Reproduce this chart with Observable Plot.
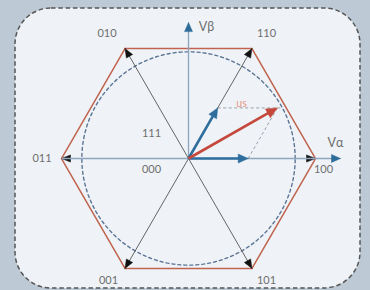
<!DOCTYPE html>
<html>
<head>
<meta charset="utf-8">
<script src="https://cdn.jsdelivr.net/npm/d3@7"></script>
<script src="https://cdn.jsdelivr.net/npm/@observablehq/plot@0.6"></script>
<style>
  html, body { margin: 0; padding: 0; }
  body { width: 370px; height: 290px; background: #bdc9d5; position: relative; overflow: hidden; font-family: Lato, "Open Sans", sans-serif; }
  #panel { position: absolute; left: 0; top: 0; }
  #chart { position: absolute; left: 0; top: 0; }
</style>
</head>
<body>
<svg id="panel" width="370" height="290">
  <rect x="15" y="8" width="345" height="280" rx="36" ry="36" fill="#eff3f7" stroke="#555" stroke-width="1.5" stroke-dasharray="4.5,2.8"></rect>
</svg>
<div id="chart"></div>
<script>
// ---- data ----
const vertexLabels = ["100", "110", "010", "011", "001", "101"];
const vertexAngles = [0, 60, 120, 180, 240, 300];
const vertexMagnitude = 1;
const zeroLabels = ["111", "000"];
const circleRadius = 0.84;
const axisNames = ["Vα", "Vβ"];
const axisLengths = [1.197, 1.07];
const activeAngles = [0, 60];
const activeMagnitudes = [0.47, 0.46];
const referenceLabel = "us";

// ---- layout helpers ----
const PX = 127;               // pixels per unit (equal on both axes)
const OX = 188, OY = 158;     // origin in pixels
const rad = d => d * Math.PI / 180;
const pol = (m, a) => [m * Math.cos(rad(a)), m * Math.sin(rad(a))];

const vertices = vertexAngles.map((a, i) => {
  const [x, y] = pol(vertexMagnitude, a);
  return {label: vertexLabels[i], x, y};
});
const hexPath = [...vertices, vertices[0]];

const circle = d3.range(0, 361, 2).map(a => {
  const [x, y] = pol(circleRadius, a);
  return {x, y};
});

const active = activeAngles.map((a, i) => {
  const [x, y] = pol(activeMagnitudes[i], a);
  return {x, y};
});
const us = {x: active[0].x + active[1].x, y: active[0].y + active[1].y};

function head(x1, y1, x0, y0, lenPx, halfPx, id) {
  const dx = x1 - x0, dy = y1 - y0, L = Math.hypot(dx, dy);
  const ux = dx / L, uy = dy / L;
  const len = lenPx / PX, half = halfPx / PX;
  const bx = x1 - ux * len, by = y1 - uy * len;
  return [
    {id, x: x1, y: y1},
    {id, x: bx - uy * half, y: by + ux * half},
    {id, x: bx + uy * half, y: by - ux * half},
    {id, x: x1, y: y1}
  ];
}
function shaft(x1, y1, lenPx, id) {
  const L = Math.hypot(x1, y1);
  const k = (L - lenPx * 0.7 / PX) / L;
  return {id, x1: 0, y1: 0, x2: x1 * k, y2: y1 * k};
}

const vertexShafts = vertices.map((v, i) => shaft(v.x, v.y, 9, i));
const vertexHeads = vertices.flatMap((v, i) => head(v.x, v.y, 0, 0, 9, 3.6, i));

const axisTips = [{x: axisLengths[0], y: 0}, {x: 0, y: axisLengths[1]}];
const axisLines = [{x1: -vertexMagnitude, y1: 0, x2: axisTips[0].x - 6 / PX, y2: 0},
                   {x1: 0, y1: 0, x2: 0, y2: axisTips[1].y - 6 / PX}];
const axisHeads = axisTips.flatMap((t, i) => head(t.x, t.y, 0, 0, 9, 4, i));

const activeShafts = active.map((v, i) => shaft(v.x, v.y, 10, i));
const activeHeads = active.flatMap((v, i) => head(v.x, v.y, 0, 0, 10, 4.5, i));
const usShaft = [shaft(us.x, us.y, 11, 0)];
const usHead = head(us.x, us.y, 0, 0, 11, 5, 0);

const construction = [
  {x1: active[1].x, y1: active[1].y, x2: us.x + 3 / PX, y2: us.y},
  {x1: active[0].x, y1: active[0].y, x2: us.x, y2: us.y}
];

const p = (px, py) => ({x: (px - OX) / PX, y: (OY - py) / PX});
const vertexLabelPos = [p(323, 169), p(266, 33), p(106.5, 33), p(41.5, 158), p(108, 280), p(266, 280)]
  .map((q, i) => ({...q, label: vertexLabels[i]}));
const zeroLabelPos = [p(151, 133), p(151, 169)].map((q, i) => ({...q, label: zeroLabels[i]}));
const axisLabelPos = [p(335, 142), p(206, 26)].map((q, i) => ({...q, label: axisNames[i]}));
const usLabelPos = [{...p(241, 103), label: referenceLabel}];

const chart = Plot.plot({
  width: 370,
  height: 290,
  margin: 0,
  style: {background: "transparent", fontFamily: "Lato, 'Open Sans', sans-serif"},
  x: {domain: [-OX / PX, (370 - OX) / PX], axis: null},
  y: {domain: [-(290 - OY) / PX, OY / PX], axis: null},
  marks: [
    // reference circle
    Plot.line(circle, {x: "x", y: "y", stroke: "#5b7595", strokeWidth: 1.4, strokeDasharray: "3,3"}),
    // hexagon
    Plot.line(hexPath, {x: "x", y: "y", stroke: "#c0644f", strokeWidth: 1.5}),
    // basic vectors to the vertices
    Plot.link(vertexShafts, {x1: "x1", y1: "y1", x2: "x2", y2: "y2", stroke: "#555", strokeWidth: 0.9}),
    Plot.line(vertexHeads, {x: "x", y: "y", z: "id", fill: "#111", stroke: "#111", strokeWidth: 0.5}),
    // axes
    Plot.link(axisLines, {x1: "x1", y1: "y1", x2: "x2", y2: "y2", stroke: "#8ea6bf", strokeWidth: 1.4}),
    Plot.line(axisHeads, {x: "x", y: "y", z: "id", fill: "#2d6b98", stroke: "#2d6b98", strokeWidth: 0.5}),
    // construction lines
    Plot.link(construction, {x1: "x1", y1: "y1", x2: "x2", y2: "y2", stroke: "#9aa0a8", strokeWidth: 1, strokeDasharray: "3,2.5"}),
    // active vectors
    Plot.link(activeShafts, {x1: "x1", y1: "y1", x2: "x2", y2: "y2", stroke: "#2f6e9c", strokeWidth: 2.6}),
    Plot.line(activeHeads, {x: "x", y: "y", z: "id", fill: "#2f6e9c", stroke: "#2f6e9c", strokeWidth: 0.5}),
    // reference vector
    Plot.link(usShaft, {x1: "x1", y1: "y1", x2: "x2", y2: "y2", stroke: "#c4493c", strokeWidth: 2.6}),
    Plot.line(usHead, {x: "x", y: "y", z: "id", fill: "#c4493c", stroke: "#c4493c", strokeWidth: 0.5}),
    // labels
    Plot.text(vertexLabelPos, {x: "x", y: "y", text: "label", fill: "#6e6e6e", fontSize: 11}),
    Plot.text(zeroLabelPos, {x: "x", y: "y", text: "label", fill: "#6e6e6e", fontSize: 11}),
    Plot.text(axisLabelPos, {x: "x", y: "y", text: "label", fill: "#6e6e6e", fontSize: 12.5}),
    Plot.text(usLabelPos, {x: "x", y: "y", text: "label", fill: "#e3978a", fontSize: 10.5})
  ]
});
document.getElementById("chart").appendChild(chart);
</script>
</body>
</html>
